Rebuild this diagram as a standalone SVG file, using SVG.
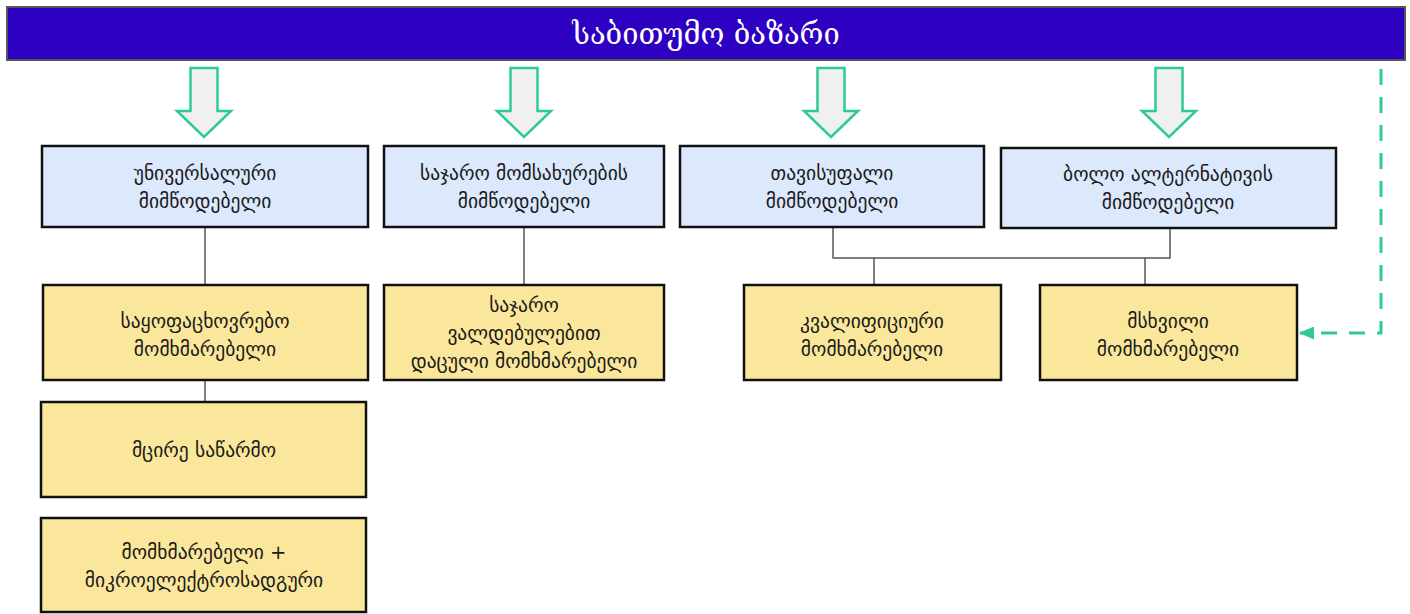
<svg xmlns="http://www.w3.org/2000/svg" width="1410" height="614" viewBox="0 0 1410 614">
<style>
.prov{fill:#dce8fc;stroke:#111;stroke-width:2.5}
.cons{fill:#fae79b;stroke:#111;stroke-width:2.5}
.t{font-family:"DejaVu Sans",sans-serif;font-size:19.5px;fill:#1a1a1a;text-anchor:middle;dominant-baseline:central}
.blk{fill:#f0f0f0;stroke:#2ecc8f;stroke-width:2.5;stroke-linejoin:miter}
.ln{stroke:#555;stroke-width:1.5;fill:none}
</style>
<defs>
<marker id="ah" markerWidth="15" markerHeight="13" refX="14" refY="6.5" orient="auto" markerUnits="userSpaceOnUse" viewBox="0 0 15 13">
<path d="M0,0 L15,6.5 L0,13 Z" fill="#2ecc8f"/>
</marker>
</defs>
<g id="title">
<rect x="7" y="7" width="1398" height="53" fill="#2e00c2" stroke="#555" stroke-width="2"/>
<text x="706" y="34" font-family="DejaVu Serif, serif" font-size="29" fill="#fff" text-anchor="middle" dominant-baseline="central">საბითუმო ბაზარი</text>
</g>
<g id="arrows">
<path class="blk" d="M190.5,68 H217.5 V111 H231 L204,137 L177,111 H190.5 Z"/>
<path class="blk" d="M510.5,68 H537.5 V111 H551 L524,137 L497,111 H510.5 Z"/>
<path class="blk" d="M817.5,68 H844.5 V111 H858 L831,137 L804,111 H817.5 Z"/>
<path class="blk" d="M1155.5,68 H1182.5 V111 H1196 L1169,137 L1142,111 H1155.5 Z"/>
</g>
<g id="connectors">
<path class="ln" d="M205,227 V285"/>
<path class="ln" d="M205,380 V402"/>
<path class="ln" d="M524,227 V285"/>
<path class="ln" d="M833,227 V258 H1170 V228"/>
<path class="ln" d="M874,258 V285"/>
<path class="ln" d="M1145,258 V285"/>
<path d="M1381,69 V333 H1300" fill="none" stroke="#2ecc8f" stroke-width="3" stroke-dasharray="16,12" marker-end="url(#ah)"/>
</g>
<g id="p1">
<rect class="prov" x="42" y="146" width="326" height="81"/>
<text class="t" x="205" y="173">უნივერსალური</text>
<text class="t" x="205" y="201">მიმწოდებელი</text>
</g>
<g id="p2">
<rect class="prov" x="384" y="146" width="280" height="81"/>
<text class="t" x="524" y="173">საჯარო მომსახურების</text>
<text class="t" x="524" y="201">მიმწოდებელი</text>
</g>
<g id="p3">
<rect class="prov" x="680" y="146" width="304" height="81"/>
<text class="t" x="832" y="173">თავისუფალი</text>
<text class="t" x="832" y="201">მიმწოდებელი</text>
</g>
<g id="p4">
<rect class="prov" x="1001" y="148" width="335" height="80"/>
<text class="t" x="1168" y="174">ბოლო ალტერნატივის</text>
<text class="t" x="1168" y="202">მიმწოდებელი</text>
</g>
<g id="c1">
<rect class="cons" x="43" y="285" width="325" height="95"/>
<text class="t" x="205" y="321">საყოფაცხოვრებო</text>
<text class="t" x="205" y="349">მომხმარებელი</text>
</g>
<g id="c2">
<rect class="cons" x="384" y="285" width="280" height="95"/>
<text class="t" x="524" y="305">საჯარო</text>
<text class="t" x="524" y="333">ვალდებულებით</text>
<text class="t" x="524" y="361">დაცული მომხმარებელი</text>
</g>
<g id="c3">
<rect class="cons" x="744" y="285" width="257" height="95"/>
<text class="t" x="872" y="321">კვალიფიციური</text>
<text class="t" x="872" y="349">მომხმარებელი</text>
</g>
<g id="c4">
<rect class="cons" x="1040" y="285" width="257" height="95"/>
<text class="t" x="1168" y="321">მსხვილი</text>
<text class="t" x="1168" y="349">მომხმარებელი</text>
</g>
<g id="c5">
<rect class="cons" x="41" y="402" width="325" height="95"/>
<text class="t" x="204" y="450">მცირე საწარმო</text>
</g>
<g id="c6">
<rect class="cons" x="41" y="518" width="325" height="94"/>
<text class="t" x="204" y="552">მომხმარებელი +</text>
<text class="t" x="204" y="580">მიკროელექტროსადგური</text>
</g>
</svg>
